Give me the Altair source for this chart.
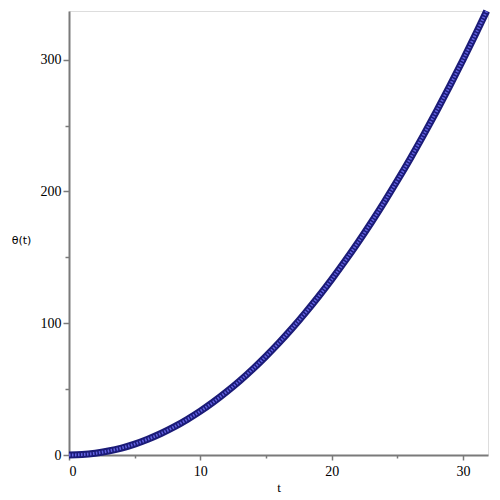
import altair as alt
import pandas as pd

t_vals = [0, 1, 2, 3, 4, 5, 6, 7, 8, 9, 10, 11, 12, 13, 14, 15, 16, 17, 18, 19,
          20, 21, 22, 23, 24, 25, 26, 27, 28, 29, 30, 31, 31.8]
theta_vals = [0, 0.3, 1.3, 3, 5.3, 8.3, 12, 16.3, 21.3, 27, 33.3, 40.3, 48, 56.3,
              65.3, 75, 85.3, 96.3, 108, 120.3, 133.3, 147, 161.3, 176.3, 192,
              208.3, 225.3, 243, 261.3, 280.3, 300, 320.3, 337]

df = pd.DataFrame({"t": t_vals, "theta": theta_vals})

x_enc = alt.X("t:Q", scale=alt.Scale(domain=[0, 31.9], nice=False, zero=False),
              axis=alt.Axis(values=[0, 5, 10, 15, 20, 25, 30],
                            labelExpr="datum.value % 10 === 0 ? datum.label : ''",
                            tickSize={"condition": {"test": "datum.value % 10 === 0", "value": 5}, "value": 3},
                            title="t", titleY=32, titleBaseline="middle",
                            titleFont="Liberation Serif", titleFontSize=13, titleFontWeight="normal",
                            labelFont="Liberation Serif", labelFontSize=14, labelColor="black",
                            labelPadding=4, grid=False, domainColor="#7a7a7a", domainWidth=2,
                            tickColor="#7a7a7a", tickWidth=1.5))
y_enc = alt.Y("theta:Q", scale=alt.Scale(domain=[0, 337], nice=False),
              axis=alt.Axis(values=[0, 50, 100, 150, 200, 250, 300],
                            labelExpr="datum.value % 100 === 0 ? datum.label : ''",
                            tickSize={"condition": {"test": "datum.value % 100 === 0", "value": 6}, "value": 4},
                            title="θ(t)", titleAngle=0, titleX=-48, titleY=229,
                            titleAlign="center", titleBaseline="middle",
                            titleFont="DejaVu Sans", titleFontSize=11, titleFontWeight="normal",
                            labelFont="Liberation Serif", labelFontSize=14, labelColor="black",
                            labelPadding=2, grid=False, domainColor="#7a7a7a", domainWidth=2,
                            tickColor="#7a7a7a", tickWidth=1.5))

outer = alt.Chart(df).mark_line(color="#1b1b78", strokeWidth=7, interpolate="monotone").encode(x=x_enc, y=y_enc)
inner = alt.Chart(df).mark_line(color="#6262e0", strokeWidth=3, strokeDash=[1.5, 1.5],
                                interpolate="monotone").encode(x="t:Q", y="theta:Q")

chart = (outer + inner).properties(
    width=419, height=444,
    autosize=alt.AutoSizeParams(type="none"),
    padding={"left": 61, "top": 3, "right": 4, "bottom": 42},
).configure_view(stroke=None).configure(background="white")

chart.save("out.html", embed_options={"renderer": "svg", "actions": False})
